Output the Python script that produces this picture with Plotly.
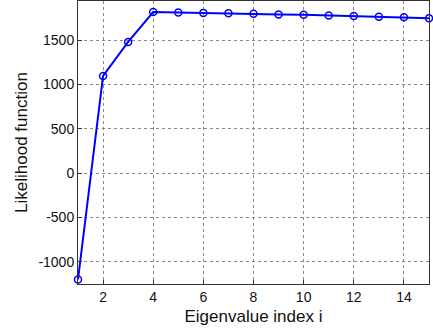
import plotly.graph_objects as go

x_index = list(range(1, 16))
likelihood = [-1200, 1095, 1478, 1816, 1809, 1806, 1801, 1795, 1789, 1784, 1777, 1770, 1762, 1756, 1746]
x_ticks = [2, 4, 6, 8, 10, 12, 14]
y_ticks = [-1000, -500, 0, 500, 1000, 1500]
y_tick_text = ["-1000", "-500", "0", "500", "1000", "1500"]

fig = go.Figure()
fig.add_trace(go.Scatter(
    x=x_index, y=likelihood, mode="lines+markers",
    line=dict(color="#0000ff", width=2),
    marker=dict(symbol="circle-open", size=7, color="#0000ff", line=dict(width=1.5)),
    showlegend=False, cliponaxis=False,
))

font_family = "Liberation Sans, Arial"
axis_common = dict(
    showline=True, linecolor="#333333", linewidth=1, mirror=True,
    ticks="inside", ticklen=4, tickcolor="#333333",
    showgrid=True, gridcolor="#8a8a8a", griddash="dot", gridwidth=1,
    zeroline=False, tickfont=dict(family=font_family, size=14, color="#111111"),
)

fig.update_xaxes(range=[1, 15], tickvals=x_ticks,
                 title=dict(text="Eigenvalue index i", font=dict(family=font_family, size=17, color="#111111"), standoff=6),
                 **axis_common)
fig.update_yaxes(range=[-1252, 1940], tickvals=y_ticks, ticktext=y_tick_text,
                 title=dict(text="Likelihood function", font=dict(family=font_family, size=17, color="#111111"), standoff=6),
                 **axis_common)

fig.update_layout(
    width=433, height=331,
    margin=dict(l=78, r=4, t=1, b=47),
    paper_bgcolor="white", plot_bgcolor="white",
)

fig.write_html("out.html")
